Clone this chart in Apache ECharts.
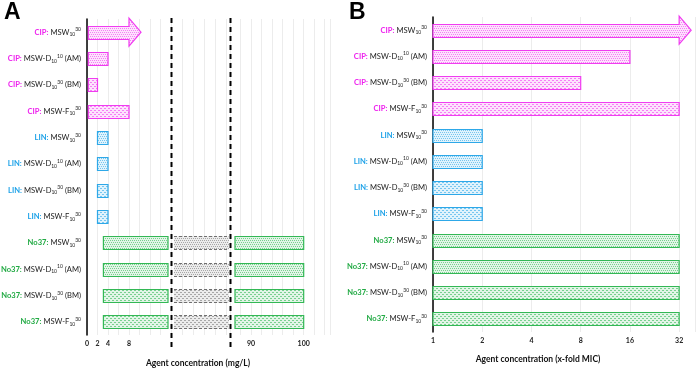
<!DOCTYPE html>
<html>
<head>
<meta charset="utf-8">
<script src="https://cdn.jsdelivr.net/npm/echarts@6/dist/echarts.min.js"></script>
<style>
  html, body { margin: 0; padding: 0; background: #fff; }
  #chart { width: 696px; height: 369px; }
</style>
</head>
<body>
<div id="chart"></div>
<script>
// rows: 3 agents x 4 samples, top to bottom
const agents = ['CIP', 'LIN', 'No37'];
const sampleBase = ['MSW', 'MSW-D', 'MSW-D', 'MSW-F'];
const sampleSup = ['30', '10', '30', '30'];
const sampleSuffix = ['', ' (AM)', ' (BM)', ''];
const samplePattern = ['dots', 'dots', 'rows', 'rows'];

// panel A, mg/L (start = MIC, end = highest active concentration)
const mgStart = [0.25, 0.25, 0.25, 0.25, 2, 2, 2, 2, 3.125, 3.125, 3.125, 3.125];
const mgEnd = [8, 4, 2, 8, 4, 4, 4, 4, 100, 100, 100, 100];
// panel B, x-fold MIC
const foldStart = [1, 1, 1, 1, 1, 1, 1, 1, 1, 1, 1, 1];
const foldEnd = [32, 16, 8, 32, 2, 2, 2, 2, 32, 32, 32, 32];
// beyond the tested range -> arrow
const aboveMax = [true, false, false, false, false, false, false, false, false, false, false, false];

const ticksMgLeft = [0, 2, 4, 8];
const ticksMgRight = [90, 100];
const ticksFold = [1, 2, 4, 8, 16, 32];

const agentColor = { CIP: '#f03cf0', LIN: '#2ea8e8', No37: '#33b855' };
const labelColor = { CIP: '#ee22ee', LIN: '#1ea2e8', No37: '#22aa44' };

const rowAgent = [], rowSample = [], rowNames = [];
agents.forEach(a => {
  sampleBase.forEach((s, j) => {
    rowAgent.push(a);
    rowSample.push(j);
    rowNames.push(a + ': ' + s + sampleSuffix[j]);
  });
});

function makePattern(color, kind) {
  const c = document.createElement('canvas');
  c.width = 4; c.height = 4;
  const g = c.getContext('2d');
  g.fillStyle = '#fff';
  g.fillRect(0, 0, 4, 4);
  g.fillStyle = color;
  g.globalAlpha = 0.14;
  g.fillRect(0, 0, 4, 4);
  g.globalAlpha = 0.6;
  if (kind === 'dots') {
    g.fillRect(0, 0, 1, 1); g.fillRect(2, 0, 1, 1);
    g.fillRect(1, 2, 1, 1); g.fillRect(3, 2, 1, 1);
  } else {
    g.fillRect(0, 0, 2, 1);
    g.fillRect(2, 2, 2, 1);
  }
  return { image: c, repeat: 'repeat' };
}

const patterns = {};
Object.keys(agentColor).concat(['gray']).forEach(k => {
  const col = k === 'gray' ? '#7a7a7a' : agentColor[k];
  patterns[k + '_dots'] = makePattern(col, 'dots');
  patterns[k + '_rows'] = makePattern(col, 'rows');
});

function makeRender(opt) {
  return function (params, api) {
    const i = api.value(0);
    const cs = params.coordSys;
    const a = api.coord([api.value(1), i]);
    const b = api.coord([api.value(2), i]);
    const band = api.size([0, 1])[1];
    const h = Math.round(band * 0.5);
    const y = Math.round(a[1] - h / 2) + 0.5;
    const lo = cs.x + opt.insetL, hi = cs.x + cs.width - opt.insetR;
    const x0 = Math.max(a[0], lo);
    const x1 = Math.min(b[0], hi);
    if (x1 - x0 < 1) return null;
    const agent = rowAgent[i];
    const kind = samplePattern[rowSample[i]];
    if (opt.gray) {
      const fill = patterns['gray_' + kind];
      const ls = { stroke: '#6f6f6f', lineWidth: 1, lineDash: [3, 2] };
      return {
        type: 'group',
        children: [
          { type: 'rect', shape: { x: x0, y: y, width: x1 - x0, height: h }, style: { fill: fill } },
          { type: 'line', shape: { x1: x0, y1: y, x2: x1, y2: y }, style: ls },
          { type: 'line', shape: { x1: x0, y1: y + h, x2: x1, y2: y + h }, style: ls }
        ]
      };
    }
    const fill = patterns[agent + '_' + kind];
    const stroke = agentColor[agent];
    if (aboveMax[i] && b[0] <= hi) {
      const hh = band * 0.53;
      const cy = a[1];
      return {
        type: 'polygon',
        shape: { points: [[x0, y], [x1, y], [x1, cy - hh], [x1 + opt.head, cy], [x1, cy + hh], [x1, y + h], [x0, y + h]] },
        style: { fill: fill, stroke: stroke, lineWidth: 1.2 }
      };
    }
    return {
      type: 'rect',
      shape: { x: x0, y: y, width: x1 - x0, height: h },
      style: { fill: fill, stroke: stroke, lineWidth: 1.2 }
    };
  };
}

const mgData = rowNames.map((n, i) => [i, mgStart[i], mgEnd[i]]);
const foldData = rowNames.map((n, i) => [i, foldStart[i], foldEnd[i]]);

const font = 'Lato';
const rich = {
  t: { fontFamily: font, fontSize: 7.6, color: '#222' },
  sub: { fontFamily: font, fontSize: 5, color: '#222', padding: [5, 0, 0, 0] },
  sup: { fontFamily: font, fontSize: 5, color: '#222', padding: [0, 0, 5, 0] }
};
agents.forEach(a => {
  rich[a] = { fontFamily: font, fontSize: 7.6, fontWeight: 'bold', color: labelColor[a] };
});

function rowLabel(value, idx) {
  const a = rowAgent[idx], j = rowSample[idx];
  let s = '{' + a + '|' + a + ':}{t| ' + sampleBase[j] + '}{sub|10}{sup|' + sampleSup[j] + '}';
  if (sampleSuffix[j]) s += '{t|' + sampleSuffix[j] + '}';
  return s;
}

const tickLabel = { fontFamily: font, fontSize: 7, fontWeight: 'bold', color: '#222', margin: 5 };
const axisBlack = { color: '#000', width: 1.5 };
const gridLine = { show: true, lineStyle: { color: '#ececec', width: 1 } };

function helperAxis(gridIndex, min, max, interval) {
  return {
    gridIndex: gridIndex, type: 'value', min: min, max: max, interval: interval, position: 'top',
    axisLine: { show: false }, axisTick: { show: false }, axisLabel: { show: false }, splitLine: gridLine
  };
}

function catAxis(gridIndex, show) {
  return {
    gridIndex: gridIndex, type: 'category', data: rowNames, inverse: true, show: show,
    axisLine: { show: true, lineStyle: axisBlack },
    axisTick: { show: false },
    axisLabel: { formatter: rowLabel, rich: rich, margin: 6 },
    splitLine: { show: false }
  };
}

const chart = echarts.init(document.getElementById('chart'));
chart.setOption({
  animation: false,
  grid: [
    { left: 87, top: 19, width: 84, height: 316, outerBoundsMode: 'none', containLabel: false },
    { left: 171, top: 19, width: 59, height: 316, outerBoundsMode: 'none', containLabel: false },
    { left: 230, top: 19, width: 100, height: 316, outerBoundsMode: 'none', containLabel: false },
    { left: 433, top: 17, width: 262, height: 315, outerBoundsMode: 'none', containLabel: false }
  ],
  xAxis: [
    {
      gridIndex: 0, type: 'value', min: 0, max: 16,
      axisLine: { lineStyle: axisBlack },
      axisTick: { customValues: [2, 4, 8], length: 4, lineStyle: { color: '#000' } },
      axisLabel: Object.assign({ customValues: ticksMgLeft }, tickLabel),
      splitLine: { show: false }
    },
    helperAxis(0, 0, 16, 2),
    {
      gridIndex: 1, type: 'value', min: 16, max: 86,
      axisLine: { lineStyle: { color: '#000', width: 1.5, type: [5, 4] } },
      axisTick: { show: false }, axisLabel: { show: false }, splitLine: { show: false }
    },
    helperAxis(1, 0, 59, 11),
    {
      gridIndex: 2, type: 'value', min: 86, max: 105,
      axisLine: { lineStyle: axisBlack, symbol: ['none', 'arrow'], symbolSize: [6, 9] },
      axisTick: { customValues: ticksMgRight, length: 4, lineStyle: { color: '#000' } },
      axisLabel: Object.assign({ customValues: ticksMgRight }, tickLabel),
      splitLine: { show: false }
    },
    helperAxis(2, 86, 105, 2),
    {
      gridIndex: 3, type: 'log', logBase: 2, min: 1, max: 40,
      axisLine: { lineStyle: axisBlack, symbol: ['none', 'arrow'], symbolSize: [6, 9] },
      axisTick: { length: 4, lineStyle: { color: '#000' } },
      axisLabel: Object.assign({
        formatter: v => {
          const r = Math.round(v);
          return ticksFold.indexOf(r) >= 0 && Math.abs(v - r) < 1e-6 ? String(r) : '';
        }
      }, tickLabel),
      splitLine: gridLine
    }
  ],
  yAxis: [catAxis(0, true), catAxis(1, false), catAxis(2, false), catAxis(3, true)],
  series: [
    { type: 'custom', xAxisIndex: 0, yAxisIndex: 0, data: mgData, encode: { x: [1, 2], y: 0 },
      renderItem: makeRender({ insetL: 0, insetR: 3, head: 12 }), silent: true },
    { type: 'custom', xAxisIndex: 2, yAxisIndex: 1, data: mgData, encode: { x: [1, 2], y: 0 },
      renderItem: makeRender({ insetL: 3, insetR: 1, gray: true }), silent: true },
    { type: 'custom', xAxisIndex: 4, yAxisIndex: 2, data: mgData, encode: { x: [1, 2], y: 0 },
      renderItem: makeRender({ insetL: 5, insetR: 0, head: 12 }), silent: true },
    { type: 'custom', xAxisIndex: 6, yAxisIndex: 3, data: foldData, encode: { x: [1, 2], y: 0 },
      renderItem: makeRender({ insetL: 0, insetR: 0, head: 12 }), silent: true }
  ],
  graphic: [
    { type: 'text', x: 4, y: 1, style: { text: 'A', font: 'bold 23px "Liberation Sans", Arial', fill: '#000' } },
    { type: 'text', x: 349, y: 1, style: { text: 'B', font: 'bold 23px "Liberation Sans", Arial', fill: '#000' } },
    { type: 'text', x: 198, y: 363, style: { text: 'Agent concentration (mg/L)', font: 'bold 8.5px Lato',
      fill: '#111', textAlign: 'center', textVerticalAlign: 'middle' } },
    { type: 'text', x: 538, y: 359, style: { text: 'Agent concentration (x-fold MIC)', font: 'bold 8.5px Lato',
      fill: '#111', textAlign: 'center', textVerticalAlign: 'middle' } },
    { type: 'line', shape: { x1: 171.5, y1: 18, x2: 171.5, y2: 349 },
      style: { stroke: '#000', lineWidth: 2, lineDash: [5, 4] }, z: 100 },
    { type: 'line', shape: { x1: 230.5, y1: 18, x2: 230.5, y2: 349 },
      style: { stroke: '#000', lineWidth: 2, lineDash: [5, 4] }, z: 100 }
  ]
});
</script>
</body>
</html>
